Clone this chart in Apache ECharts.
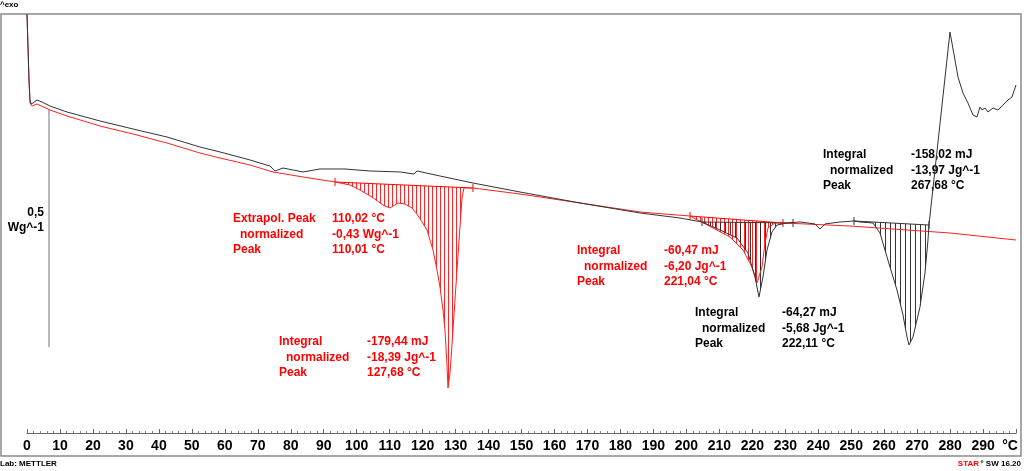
<!DOCTYPE html>
<html><head><meta charset="utf-8">
<script src="https://cdn.jsdelivr.net/npm/echarts@6/dist/echarts.min.js"></script>
<style>html,body{margin:0;padding:0;background:#fff}#c{width:1024px;height:471px}</style>
</head><body><div id="c"></div>
<script>
// Temperature (°C) and heat flow (W/g, arbitrary offset)
const blackCurve = [
 [0,0.4325],[0.61,0.2932],[0.91,0.2511],[1.21,0.2426],[1.82,0.2447],[3.03,0.2511],[4.55,0.2468],
 [6.98,0.2384],[12.13,0.2257],[22.14,0.2068],[32.15,0.1899],[42.46,0.1730],[52.47,0.1519],
 [58.54,0.1414],[67.64,0.1245],[73.72,0.1118],[75.23,0.1013],[77.65,0.1076],[83.71,0.0992],
 [88.87,0.1055],[96.45,0.1055],[104.03,0.1013],[113.13,0.0992],[117.38,0.0949],[118.29,0.1013],
 [125.27,0.0907],[135.27,0.0759],[149.53,0.0570],[167.73,0.0338],[185.93,0.0127],[198.06,0.0021],
 [204.73,-0.0063],[210.19,-0.0232],[215.35,-0.0401],[218.68,-0.0717],[220.81,-0.1224],[222.02,-0.1646],
 [223.23,-0.1224],[224.45,-0.0654],[225.96,-0.0274],[227.48,-0.0127],[230.51,-0.0084],[234.46,-0.0063],
 [239.01,-0.0105],[240.52,-0.0211],[242.04,-0.0105],[246.59,-0.0063],[250.83,-0.0042],[252.65,-0.0063],
 [256.60,-0.0084],[258.72,-0.0295],[261.75,-0.1013],[263.88,-0.1498],[265.70,-0.2025],[266.91,-0.2489],
 [267.52,-0.2658],[268.73,-0.2489],[270.85,-0.1857],[272.37,-0.1139],[273.28,-0.0443],[273.58,-0.0127],
 [279.95,0.3945],[281.47,0.3354],[282.38,0.2996],[283.89,0.2658],[285.41,0.2447],[286.93,0.2194],
 [288.14,0.2152],[289.05,0.2363],[289.66,0.2300],[290.57,0.2342],[291.48,0.2257],[292.99,0.2342],
 [294.51,0.2300],[296.03,0.2405],[297.54,0.2511],[298.76,0.2574],[299.97,0.2827]
];
const redCurve = [
 [0,0.4325],[0.61,0.2932],[0.91,0.2447],[1.52,0.2384],[3.03,0.2426],[6.98,0.2300],[12.13,0.2173],
 [22.14,0.1962],[32.15,0.1793],[42.46,0.1603],[52.47,0.1392],[58.54,0.1287],[67.64,0.1139],
 [74.61,0.0992],[83.71,0.0886],[93.42,0.0781],[97.97,0.0717],[101.00,0.0612],[104.64,0.0464],
 [107.98,0.0295],[110.10,0.0232],[112.53,0.0338],[114.65,0.0316],[116.77,0.0232],[118.29,0.0105],
 [119.81,-0.0063],[121.32,-0.0232],[123.14,-0.0654],[124.36,-0.1076],[125.27,-0.1435],[126.18,-0.1920],
 [126.78,-0.2342],[127.39,-0.3080],[127.69,-0.3565],[128.30,-0.3249],[128.90,-0.2658],[129.81,-0.1709],
 [130.42,-0.1076],[131.33,-0.0169],[131.94,0.0443],[132.54,0.0654],[135.27,0.0654],[149.53,0.0527],
 [167.73,0.0338],[185.93,0.0148],[201.09,0.0063],[208.07,-0.0190],[213.22,-0.0380],[217.17,-0.0654],
 [219.90,-0.1013],[221.41,-0.1350],[222.93,-0.1013],[223.84,-0.0506],[224.75,-0.0190],[226.87,-0.0084],
 [229.30,-0.0084],[249.62,-0.0148],[279.95,-0.0295],[299.97,-0.0443]
];
// Integration baselines
const baseStartT  = [93.42, 201.09, 204.73, 250.83];
const baseStartHF = [0.0781, 0.0063, -0.0063, -0.0042];
const baseEndT    = [135.27, 229.30, 232.33, 273.58];
const baseEndHF   = [0.0654, -0.0084, -0.0084, -0.0127];
const baseCurve   = ['red', 'red', 'black', 'black'];
// Scale bar 0,5 W/g
const scaleBarT = [6.67, 6.67];
const scaleBarHF = [0.23, -0.27];
// Axis ticks
const tempTicks = [0,10,20,30,40,50,60,70,80,90,100,110,120,130,140,150,160,170,180,190,200,210,220,230,240,250,260,270,280,290];
// Annotations
const annLabels = [
 ['Extrapol. Peak','normalized','Peak'],
 ['Integral','normalized','Peak'],
 ['Integral','normalized','Peak'],
 ['Integral','normalized','Peak'],
 ['Integral','normalized','Peak']
];
const annValues = [
 ['110,02 °C','-0,43 Wg^-1','110,01 °C'],
 ['-179,44 mJ','-18,39 Jg^-1','127,68 °C'],
 ['-60,47 mJ','-6,20 Jg^-1','221,04 °C'],
 ['-64,27 mJ','-5,68 Jg^-1','222,11 °C'],
 ['-158,02 mJ','-13,97 Jg^-1','267,68 °C']
];
const annColor = ['red','red','red','black','black'];
const annPos = [[233,332,219],[279,367,342],[577,664,251],[695,782,313],[823,911,155]];

const COL = {red:'#ff0000', black:'#333333'};
const FONT = '"Liberation Sans", Arial, sans-serif';

function hatch(color, step){
  const c = document.createElement('canvas');
  c.width = step; c.height = 4;
  const g = c.getContext('2d');
  g.fillStyle = color;
  g.fillRect(0,0,1,4);
  return {image: c, repeat: 'repeat'};
}
const patterns = {red: hatch('rgba(255,0,0,0.85)', 4), black: hatch('rgba(30,30,30,0.9)', 5)};

const graphics = [];
annLabels.forEach((labs, i) => {
  const [lx, vx, y0] = annPos[i];
  const fill = annColor[i] === 'red' ? '#ff0000' : '#000000';
  for (let k = 0; k < 3; k++) {
    graphics.push({type:'text', x: lx + (k === 1 ? 7 : 0), y: y0 + k*15.5,
      style:{text: labs[k], fill, font:'bold 12px ' + FONT, verticalAlign:'middle'}});
    graphics.push({type:'text', x: vx, y: y0 + k*15.5,
      style:{text: annValues[i][k], fill, font:'bold 12px ' + FONT, verticalAlign:'middle'}});
  }
});
graphics.push(
  {type:'text', x:44, y:213, style:{text:'0,5', fill:'#000', font:'bold 12px ' + FONT, align:'right', verticalAlign:'middle'}},
  {type:'text', x:44, y:228, style:{text:'Wg^-1', fill:'#000', font:'bold 12px ' + FONT, align:'right', verticalAlign:'middle'}},
  {type:'text', x:1010, y:446, style:{text:'°C', fill:'#000', font:'bold 14px ' + FONT, align:'center', verticalAlign:'middle'}},
  {type:'text', x:0, y:5, style:{text:'^exo', fill:'#000', font:'bold 8px ' + FONT, verticalAlign:'middle'}},
  {type:'text', x:0, y:464, style:{text:'Lab: METTLER', fill:'#000', font:'bold 8px ' + FONT, verticalAlign:'middle'}},
  {type:'text', x:1021, y:464, style:{text:'° SW 16.20', fill:'#000', font:'bold 8px ' + FONT, align:'right', verticalAlign:'middle'}},
  {type:'text', x:979, y:464, style:{text:'STAR', fill:'#ff0000', font:'bold 8px ' + FONT, align:'right', verticalAlign:'middle'}}
);

const chart = echarts.init(document.getElementById('c'), null, {renderer:'canvas'});
chart.setOption({
  animation: false,
  backgroundColor: '#fff',
  grid: [
    {left:1, right:3, top:14, bottom:15, show:true, borderColor:'#8a8a8a', borderWidth:1.5, backgroundColor:'transparent'},
    {left:27, right:7.9, top:14, bottom:38}
  ],
  xAxis: [
    {gridIndex:0, type:'value', min:-7.886, max:301.49, show:false},
    {gridIndex:1, type:'value', min:0, max:300, interval:10,
     axisLine:{show:true, onZero:false, lineStyle:{color:'#666', width:1}},
     axisTick:{show:true, inside:true, length:4, lineStyle:{color:'#666'}},
     minorTick:{show:true, splitNumber:5, length:2, lineStyle:{color:'#888'}},
     splitLine:{show:false},
     axisLabel:{margin:6, color:'#000', fontSize:14, fontWeight:'bold', fontFamily:FONT,
       formatter: v => tempTicks.includes(v) ? String(v) : ''}}
  ],
  yAxis: [
    {gridIndex:0, type:'value', min:-0.5, max:0.4325, show:false},
    {gridIndex:1, type:'value', min:0, max:1, show:false}
  ],
  graphic: graphics,
  series: [
    {type:'custom', xAxisIndex:0, yAxisIndex:0, z:1, clip:true,
     data: baseStartT.map((t,i) => [t, baseStartHF[i], baseEndT[i], baseEndHF[i]]),
     encode:{x:[0,2], y:[1,3]},
     renderItem: (params, api) => {
       const i = params.dataIndex;
       const curve = baseCurve[i] === 'red' ? redCurve : blackCurve;
       const p0 = api.coord([baseStartT[i], baseStartHF[i]]);
       const p1 = api.coord([baseEndT[i], baseEndHF[i]]);
       const pts = [p0];
       curve.forEach(d => { if (d[0] > baseStartT[i] && d[0] < baseEndT[i]) pts.push(api.coord(d)); });
       pts.push(p1);
       const col = COL[baseCurve[i]];
       return {type:'group', children:[
         {type:'polygon', shape:{points:pts}, style:{fill:patterns[baseCurve[i]], stroke:null}},
         {type:'line', shape:{x1:p0[0], y1:p0[1], x2:p1[0], y2:p1[1]}, style:{stroke:col, lineWidth:1}},
         {type:'line', shape:{x1:p0[0], y1:p0[1]-4, x2:p0[0], y2:p0[1]+4}, style:{stroke:col, lineWidth:1}},
         {type:'line', shape:{x1:p1[0], y1:p1[1]-4, x2:p1[0], y2:p1[1]+4}, style:{stroke:col, lineWidth:1}}
       ]};
     }},
    {type:'line', name:'scale', xAxisIndex:0, yAxisIndex:0, z:2, symbol:'none',
     data: scaleBarT.map((t,i) => [t, scaleBarHF[i]]), lineStyle:{color:'#a0a0a0', width:1.5}},
    {type:'line', name:'red', xAxisIndex:0, yAxisIndex:0, z:3, symbol:'none', data: redCurve,
     lineStyle:{color:'#ff2020', width:1}},
    {type:'line', name:'black', xAxisIndex:0, yAxisIndex:0, z:4, symbol:'none', data: blackCurve,
     lineStyle:{color:'#333333', width:1}},
    {type:'line', xAxisIndex:1, yAxisIndex:1, data:[], symbol:'none'}
  ]
});
</script></body></html>
